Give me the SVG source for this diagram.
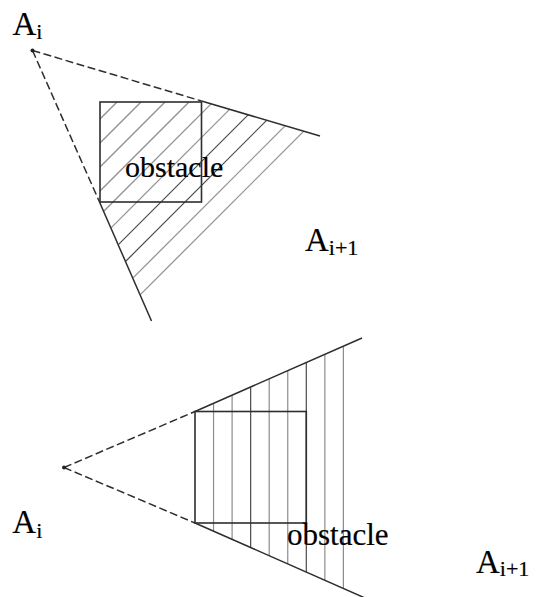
<svg xmlns="http://www.w3.org/2000/svg" width="542" height="597" viewBox="0 0 542 597">
<style>
.bg{fill:#ffffff}
text{font-family:'Liberation Serif','Times New Roman',serif;fill:#000;stroke:#000;stroke-width:0.2}
.dash{stroke:#2e2e2e;stroke-width:1.5;stroke-dasharray:8 3.5;fill:none}
.solid{stroke:#2e2e2e;stroke-width:1.5;fill:none}
.box{stroke:#2e2e2e;stroke-width:1.6;fill:none}
.hatch{stroke:#8c8c8c;stroke-width:1.2}
.dark{stroke:#4a4a4a}
.dot{fill:#222}
</style>
<rect class="bg" x="0" y="0" width="542" height="597"/>

<!-- Top diagram -->
<g id="top-hatch">
<line class="hatch" x1="100" y1="119" x2="117" y2="102"/>
<line class="hatch" x1="100" y1="143" x2="141" y2="102"/>
<line class="hatch" x1="100" y1="167" x2="165" y2="102"/>
<line class="hatch" x1="100" y1="191" x2="189" y2="102"/>
<line class="hatch" x1="104" y1="211" x2="211.1" y2="103.9"/>
<line class="hatch" x1="111.3" y1="227.7" x2="229.6" y2="109.4"/>
<line class="hatch dark" x1="118.6" y1="244.4" x2="248.1" y2="114.9"/>
<line class="hatch dark" x1="126" y1="261" x2="266.6" y2="120.4"/>
<line class="hatch" x1="133.3" y1="277.7" x2="285.1" y2="125.9"/>
<line class="hatch" x1="140.6" y1="294.4" x2="303.6" y2="131.4"/>
</g>
<g id="top-connectors">
<line class="dash" x1="32.5" y1="50.5" x2="201.5" y2="101"/>
<line class="solid" x1="201.5" y1="101" x2="320" y2="136"/>
<line class="dash" x1="32.5" y1="50.5" x2="99.5" y2="202"/>
<line class="solid" x1="99.5" y1="202" x2="151.5" y2="321"/>
</g>
<g id="top-Ai">
<circle class="dot" cx="32.5" cy="50.5" r="2"/>
<text x="12.5" y="35" font-size="33">A<tspan font-size="22" dy="4">i</tspan></text>
</g>
<g id="top-obstacle">
<rect class="box" x="100" y="102" width="101.5" height="100"/>
<text x="125" y="176.5" font-size="30">obstacle</text>
</g>
<g id="top-Ai1">
<text x="305" y="250.5" font-size="33">A<tspan font-size="22" dy="4">i+1</tspan></text>
</g>

<!-- Bottom diagram -->
<g id="bottom-hatch">
<line class="hatch" x1="213.55" y1="403.3" x2="213.55" y2="531.2"/>
<line class="hatch" x1="232.1" y1="395.2" x2="232.1" y2="539.3"/>
<line class="hatch dark" x1="250.65" y1="387" x2="250.65" y2="547.5"/>
<line class="hatch" x1="269.2" y1="378.9" x2="269.2" y2="555.6"/>
<line class="hatch" x1="287.75" y1="370.7" x2="287.75" y2="563.8"/>
<line class="hatch dark" x1="306.3" y1="362.5" x2="306.3" y2="572"/>
<line class="hatch" x1="324.85" y1="354.4" x2="324.85" y2="580.1"/>
<line class="hatch" x1="343.4" y1="346.2" x2="343.4" y2="588.3"/>
</g>
<g id="bottom-connectors">
<line class="dash" x1="64" y1="467.5" x2="195" y2="411.5"/>
<line class="solid" x1="195" y1="411.5" x2="362" y2="338"/>
<line class="dash" x1="64" y1="467.5" x2="195" y2="523"/>
<line class="solid" x1="195" y1="523" x2="365" y2="598"/>
</g>
<g id="bottom-Ai">
<circle class="dot" cx="64" cy="467.5" r="2"/>
<text x="12.3" y="533.3" font-size="33">A<tspan font-size="22" dy="4.5">i</tspan></text>
</g>
<g id="bottom-obstacle">
<rect class="box" x="195" y="411.5" width="111.3" height="111.5"/>
<text x="287" y="545" font-size="31">obstacle</text>
</g>
<g id="bottom-Ai1">
<text x="476" y="572.7" font-size="33">A<tspan font-size="22" dy="3.5">i+1</tspan></text>
</g>
</svg>
